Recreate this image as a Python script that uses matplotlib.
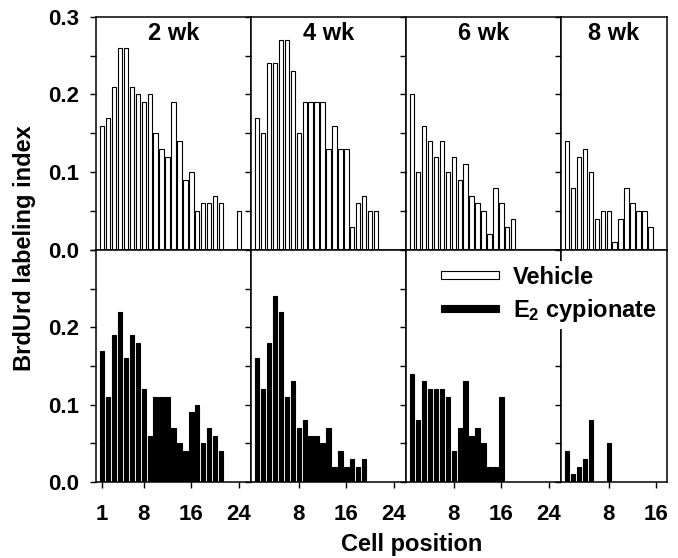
import matplotlib
matplotlib.use('Agg')
import matplotlib.pyplot as plt
from matplotlib.patches import Patch
import numpy as np

plt.rcParams['font.family'] = ['Liberation Sans', 'DejaVu Sans']
plt.rcParams['font.weight'] = 'bold'
plt.rcParams['mathtext.fontset'] = 'custom'
plt.rcParams['mathtext.rm'] = 'Liberation Sans:bold'
plt.rcParams['mathtext.bf'] = 'Liberation Sans:bold'
plt.rcParams['mathtext.it'] = 'Liberation Sans:bold'

# ---------------- data ----------------
weeks = ['2 wk', '4 wk', '6 wk', '8 wk']

# BrdUrd labeling index by cell position (index 0 = cell 1); 0 = no bar
vehicle_2wk = [0.16, 0.17, 0.21, 0.26, 0.26, 0.21, 0.20, 0.19, 0.20, 0.15, 0.13, 0.12,
               0.19, 0.14, 0.09, 0.10, 0.05, 0.06, 0.06, 0.07, 0.06, 0, 0, 0.05]
vehicle_4wk = [0.17, 0.15, 0.24, 0.24, 0.27, 0.27, 0.23, 0.15, 0.19, 0.19, 0.19, 0.19,
               0.13, 0.16, 0.13, 0.13, 0.03, 0.06, 0.07, 0.05, 0.05]
vehicle_6wk = [0.20, 0.10, 0.16, 0.14, 0.12, 0.14, 0.10, 0.12, 0.09, 0.11, 0.07, 0.06,
               0.05, 0.02, 0.08, 0.06, 0.03, 0.04]
vehicle_8wk = [0.14, 0.08, 0.12, 0.13, 0.10, 0.04, 0.05, 0.05, 0.01, 0.04, 0.08, 0.06,
               0.05, 0.05, 0.03]

e2_2wk = [0.17, 0.11, 0.19, 0.22, 0.16, 0.19, 0.18, 0.12, 0.06, 0.11, 0.11, 0.11,
          0.07, 0.05, 0.04, 0.09, 0.10, 0.05, 0.07, 0.06, 0.04]
e2_4wk = [0.16, 0.12, 0.18, 0.24, 0.22, 0.11, 0.13, 0.07, 0.08, 0.06, 0.06, 0.05,
          0.07, 0.02, 0.04, 0.02, 0.03, 0.02, 0.03]
e2_6wk = [0.14, 0.08, 0.13, 0.12, 0.12, 0.12, 0.11, 0.04, 0.07, 0.13, 0.06, 0.07,
          0.05, 0.02, 0.02, 0.11]
e2_8wk = [0.04, 0.01, 0.02, 0.03, 0.08, 0, 0, 0.05]

vehicle_data = [vehicle_2wk, vehicle_4wk, vehicle_6wk, vehicle_8wk]
e2_data = [e2_2wk, e2_4wk, e2_6wk, e2_8wk]

x_ticks = [[1, 8, 16, 24], [8, 16, 24], [8, 16, 24], [8, 16]]
x_ticklabels = [['1', '8', '16', '24'], ['8', '16', '24'], ['8', '16', '24'], ['8', '16']]
x_max = [26, 26, 26, 17.7]

y_ticks = [0.0, 0.05, 0.10, 0.15, 0.20, 0.25, 0.30]
y_ticklabels_top = ['0.0', '', '0.1', '', '0.2', '', '0.3']
y_ticklabels_bottom = ['0.0', '', '0.1', '', '0.2', '', '']

series_labels = ['Vehicle', r'E$_\mathbf{2}$ cypionate']
xlabel = 'Cell position'
ylabel = 'BrdUrd labeling index'

# ---------------- layout ----------------
W, H = 678, 558
fig = plt.figure(figsize=(W / 100, H / 100), dpi=100)

lefts_px = [96, 251, 406, 561]
widths_px = [155, 155, 155, 105.5]
top_y_px = (16.7, 250)
bot_y_px = (250, 482)

TICK_FS = 16
LAB_FS = 17
bar_w = 0.72


def make_axes(i, ypx):
    l = lefts_px[i] / W
    w = widths_px[i] / W
    b = 1 - ypx[1] / H
    h = (ypx[1] - ypx[0]) / H
    return fig.add_axes([l, b, w, h])


for row, (data_list, ypx, face, ylabels) in enumerate([
        (vehicle_data, top_y_px, 'white', y_ticklabels_top),
        (e2_data, bot_y_px, 'black', y_ticklabels_bottom)]):
    for i in range(4):
        ax = make_axes(i, ypx)
        vals = np.array(data_list[i], dtype=float)
        pos = np.arange(1, len(vals) + 1)
        m = vals > 0
        ax.bar(pos[m], vals[m], width=bar_w, color=face, edgecolor='black',
               linewidth=0.8, zorder=2)
        ax.set_xlim(0, x_max[i])
        ax.set_ylim(0, 0.3)
        ax.set_xticks(x_ticks[i])
        ax.set_yticks(y_ticks)
        if row == 1:
            ax.set_xticklabels(x_ticklabels[i], fontsize=TICK_FS, fontweight='bold')
        else:
            ax.set_xticklabels([])
        if i == 0:
            ax.set_yticklabels(ylabels, fontsize=TICK_FS, fontweight='bold')
        else:
            ax.set_yticklabels([])
        ax.tick_params(axis='x', direction='out', length=4, width=1.0, pad=11.5)
        ax.tick_params(axis='y', direction='out', length=4, width=1.0, pad=8)
        for s in ax.spines.values():
            s.set_linewidth(1.1)
        if row == 0:
            ax.text(0.5, 0.93, weeks[i], transform=ax.transAxes, ha='center',
                    va='center', fontsize=LAB_FS, fontweight='bold')

# legend
handles = [Patch(facecolor='white', edgecolor='black', linewidth=0.8, label=series_labels[0]),
           Patch(facecolor='black', edgecolor='black', linewidth=0.8, label=series_labels[1])]
leg = fig.legend(handles=handles, loc='upper left',
                 bbox_to_anchor=(436 / W, 1 - 261 / H), bbox_transform=fig.transFigure,
                 borderaxespad=0, frameon=True, fancybox=False, framealpha=1,
                 facecolor='white', edgecolor='none', fontsize=LAB_FS,
                 handlelength=2.45, handleheight=0.11, handletextpad=0.6,
                 labelspacing=0.35, borderpad=0.2)
for t in leg.get_texts():
    t.set_fontweight('bold')

fig.text(412 / W, 1 - 551 / H, xlabel, ha='center', va='baseline',
         fontsize=LAB_FS, fontweight='bold')
fig.text(25 / W, 1 - 248 / H, ylabel, ha='center', va='center', rotation=90,
         fontsize=LAB_FS, fontweight='bold')

fig.savefig('out.png', dpi=100)
